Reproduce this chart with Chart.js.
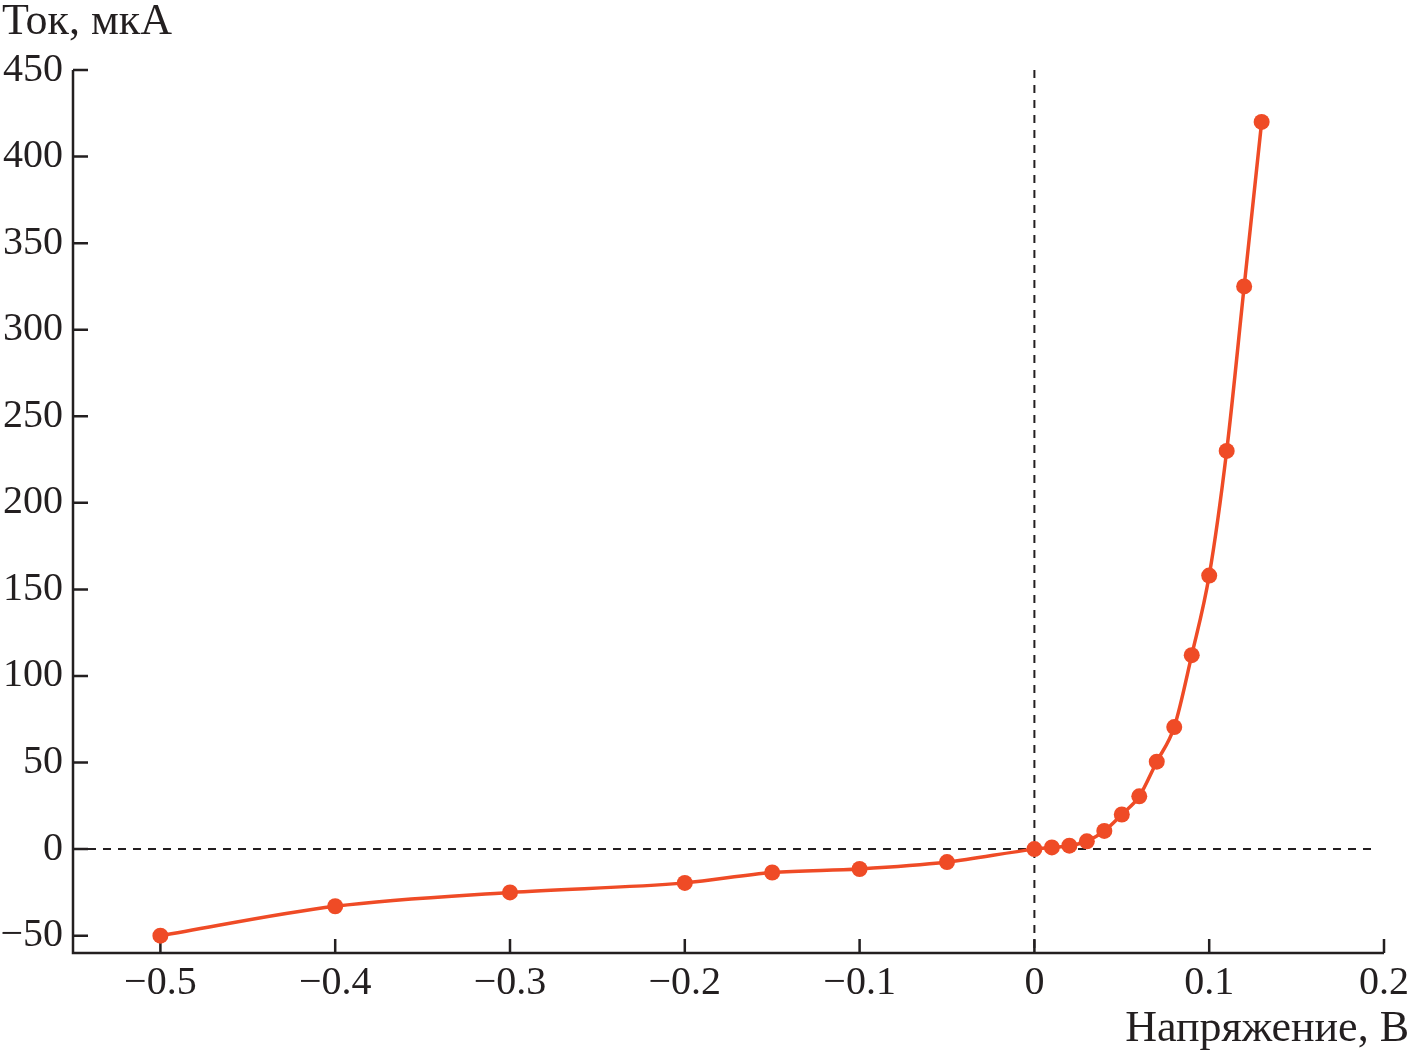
<!DOCTYPE html>
<html>
<head>
<meta charset="utf-8">
<script src="https://cdn.jsdelivr.net/npm/chart.js@4"></script>
<style>
  html, body { margin: 0; padding: 0; background: #fff; }
  .chart-container { width: 1411px; height: 1052px; position: relative; }
</style>
</head>
<body>
<div class="chart-container"><canvas id="ivChart"></canvas></div>
<script>
// voltage, V and current, uA
const voltage = [-0.5, -0.4, -0.3, -0.2, -0.15, -0.1, -0.05, 0, 0.01, 0.02, 0.03, 0.04, 0.05, 0.06, 0.07, 0.08, 0.09, 0.1, 0.11, 0.12, 0.13];
const current = [-50, -33, -25, -19.5, -13.5, -11.5, -7.5, 0, 1, 2, 4.5, 10.5, 20, 30.5, 50.5, 70.5, 112, 158, 230, 325, 420];

const xTicks = [-0.5, -0.4, -0.3, -0.2, -0.1, 0, 0.1, 0.2];
const yTicks = [-50, 0, 50, 100, 150, 200, 250, 300, 350, 400, 450];

const xTitle = "Напряжение, В";
const yTitle = "Ток, мкА";

const inkColor = "#231f20";
const lineColor = "#ef4b26";
const fontFamily = "'Liberation Serif', 'DejaVu Serif', serif";

function fmt(v) {
  if (v === 0) return "0";
  let s = Number.isInteger(v) ? String(Math.abs(v)) : Math.abs(v).toFixed(1);
  return v < 0 ? "\u2212" + s : s;
}

//draws axes, inward ticks, dashed zero lines and axis titles
const axesPlugin = {
  id: "axesPlugin",
  beforeDatasetsDraw(chart) {
    const ctx = chart.ctx;
    const area = chart.chartArea;
    const xs = chart.scales.x;
    const ys = chart.scales.y;
    ctx.save();

    // dashed zero lines
    ctx.strokeStyle = inkColor;
    ctx.lineWidth = 2;
    ctx.setLineDash([8, 7]);
    let x0 = xs.getPixelForValue(0);
    let y0 = ys.getPixelForValue(0);
    ctx.beginPath();
    ctx.moveTo(x0, area.top);
    ctx.lineTo(x0, area.bottom);
    ctx.moveTo(area.left, y0);
    ctx.lineTo(area.right - 6, y0);
    ctx.stroke();
    ctx.setLineDash([]);

    // axis lines
    ctx.lineWidth = 2.5;
    ctx.beginPath();
    ctx.moveTo(area.left, area.top);
    ctx.lineTo(area.left, area.bottom);
    ctx.lineTo(area.right, area.bottom);
    ctx.stroke();

    // ticks pointing inward
    ctx.beginPath();
    xTicks.forEach((v) => {
      let px = xs.getPixelForValue(v);
      ctx.moveTo(px, area.bottom);
      ctx.lineTo(px, area.bottom - 14);
    });
    yTicks.forEach((v) => {
      let py = ys.getPixelForValue(v);
      ctx.moveTo(area.left, py);
      ctx.lineTo(area.left + 15, py);
    });
    ctx.stroke();
    ctx.restore();
  },
  afterDraw(chart) {
    const ctx = chart.ctx;
    ctx.save();
    ctx.fillStyle = inkColor;
    ctx.font = "44px " + fontFamily;
    ctx.textBaseline = "alphabetic";
    ctx.textAlign = "left";
    ctx.fillText(yTitle, 2, 34);
    ctx.textAlign = "right";
    ctx.fillText(xTitle, 1409, 1041);
    ctx.restore();
  },
};

const data = {
  datasets: [
    {
      data: voltage.map((v, k) => ({ x: v, y: current[k] })),
      borderColor: lineColor,
      backgroundColor: lineColor,
      borderWidth: 3.5,
      pointRadius: 8,
      pointBorderWidth: 0,
      cubicInterpolationMode: "monotone",
    },
  ],
};

const config = {
  type: "line",
  data: data,
  options: {
    responsive: false,
    animation: false,
    layout: { padding: { top: 70, right: 27, left: 0, bottom: 0 } },
    plugins: { legend: { display: false }, tooltip: { enabled: false } },
    scales: {
      x: {
        type: "linear",
        min: -0.55,
        max: 0.2,
        border: { display: false },
        grid: { display: false, drawTicks: false },
        afterBuildTicks: (scale) => {
          scale.ticks = xTicks.map((v) => ({ value: v }));
        },
        afterFit: (scale) => {
          scale.height = 99;
          scale.paddingLeft = 0;
          scale.paddingRight = 0;
        },
        ticks: {
          color: inkColor,
          font: { family: fontFamily, size: 40 },
          padding: 6,
          maxRotation: 0,
          autoSkip: false,
          callback: (v) => fmt(v),
        },
      },
      y: {
        min: -60,
        max: 450,
        border: { display: false },
        grid: { display: false, drawTicks: false },
        afterBuildTicks: (scale) => {
          scale.ticks = yTicks.map((v) => ({ value: v }));
        },
        afterFit: (scale) => {
          scale.width = 73;
          scale.paddingTop = 0;
          scale.paddingBottom = 0;
        },
        ticks: {
          color: inkColor,
          font: { family: fontFamily, size: 40 },
          padding: 10,
          autoSkip: false,
          callback: (v) => fmt(v),
        },
      },
    },
  },
  plugins: [axesPlugin],
};

let canvas = document.getElementById("ivChart");
canvas.width = 1411;
canvas.height = 1052;
const ivChart = new Chart(canvas, config);
</script>
</body>
</html>
